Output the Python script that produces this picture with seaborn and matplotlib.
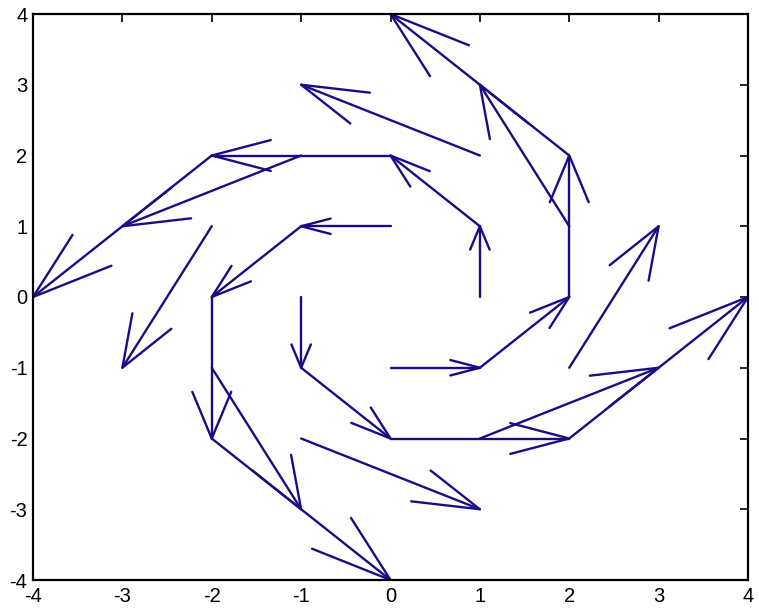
import numpy as np
import pandas as pd
import matplotlib
matplotlib.use("Agg")
import matplotlib.pyplot as plt
import seaborn as sns

# Grid of sample points and the rotational field (u, v) = (-y, x)
xs = [-2, -1, 0, 1, 2]
ys = [-2, -1, 0, 1, 2]
x_ticks = [-4, -3, -2, -1, 0, 1, 2, 3, 4]
y_ticks = [-4, -3, -2, -1, 0, 1, 2, 3, 4]

X, Y = np.meshgrid(xs, ys)
X = X.ravel().astype(float)
Y = Y.ravel().astype(float)
U = -Y
V = X

# Open arrowheads in data units (head length / width fractions)
alpha, beta = 0.33, 0.33
eps = np.finfo(float).eps

rows = []
seg = 0
for x, y, u, v in zip(X, Y, U, V):
    if u == 0 and v == 0:
        continue
    tip = (x + u, y + v)
    h1 = (x + u - alpha * (u + beta * (v + eps)), y + v - alpha * (v - beta * (u + eps)))
    h2 = (x + u - alpha * (u - beta * (v + eps)), y + v - alpha * (v + beta * (u + eps)))
    for path in ([(x, y), tip], [h1, tip, h2]):
        for px, py in path:
            rows.append({"seg": seg, "x": px, "y": py})
        seg += 1
df = pd.DataFrame(rows)

sns.set_style("white")
plt.rcParams["font.family"] = ["Liberation Sans", "DejaVu Sans"]

fig = plt.figure(figsize=(7.59, 6.14), dpi=100)
ax = fig.add_axes([33 / 759, 34 / 614, 715 / 759, 566 / 614])

sns.lineplot(data=df, x="x", y="y", units="seg", estimator=None, sort=False,
             color="#1a0c84", linewidth=1.7, ax=ax, legend=False)

ax.set_xlim(-4, 4)
ax.set_ylim(-4, 4)
ax.set_xticks(x_ticks)
ax.set_yticks(y_ticks)
ax.set_xticklabels([str(t) for t in x_ticks])
ax.set_yticklabels([str(t) for t in y_ticks])
ax.set_xlabel("")
ax.set_ylabel("")
ax.tick_params(direction="in", length=6, width=1.2, top=True, right=True,
               labelsize=14.5, colors="black")
ax.tick_params(axis="x", pad=5)
ax.tick_params(axis="y", pad=4)
for s in ax.spines.values():
    s.set_color("black")
    s.set_linewidth(1.6)
    s.set_visible(True)

fig.savefig("out.png", dpi=100)
